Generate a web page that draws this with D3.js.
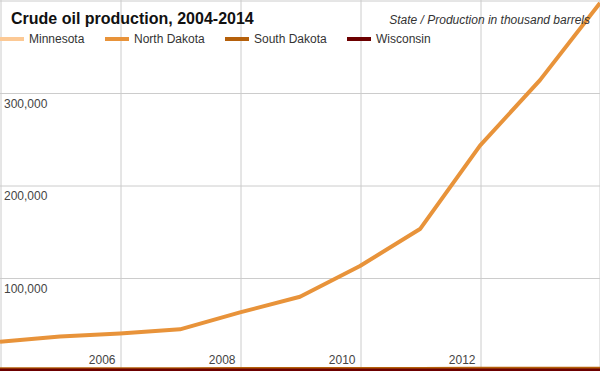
<html>
<head>
    <title>Crude oil production</title>
    <script src="https://d3js.org/d3.v7.min.js"></script>
    <style>
        body { margin: 0; background: #fff; }
        text { font-family: Arial, "Liberation Sans", sans-serif; }
    </style>
</head>
<body>
<script>
    // data, thousand barrels per year
    const years = [2004, 2005, 2006, 2007, 2008, 2009, 2010, 2011, 2012, 2013, 2014]
    const states = ['Minnesota', 'North Dakota', 'South Dakota', 'Wisconsin']
    const minnesota = [0, 0, 0, 0, 0, 0, 0, 0, 0, 0, 0]
    const northDakota = [31200, 36800, 40000, 44500, 62800, 79700, 113000, 152900, 243100, 313900, 397400]
    const southDakota = [1400, 1300, 1300, 1400, 1600, 1600, 1600, 1700, 1800, 1900, 1900]
    const wisconsin = [0, 0, 0, 0, 0, 0, 0, 0, 0, 0, 0]
    const colors = ['#fcc995', '#e8933a', '#b5600b', '#6c0000']
    const xTicks = [2004, 2006, 2008, 2010, 2012, 2014]
    const yTicks = [0, 100000, 200000, 300000, 400000]

    const series = [minnesota, northDakota, southDakota, wisconsin]

    const width = 600, height = 371

    const svg = d3.select('body').append('svg')
        .attr('width', width)
        .attr('height', height)

    const x = d3.scaleLinear()
        .domain([2004, 2014])
        .range([0, width])

    const y = d3.scaleLinear()
        .domain([0, 400000])
        .range([370.5, 0.5])

    // vertical grid + year labels
    const xAxis = svg.append('g')
        .attr('transform', 'translate(0,' + height + ')')
        .call(d3.axisBottom(x)
            .tickValues(xTicks)
            .tickSize(-height)
            .tickFormat(d3.format('d')))
    xAxis.select('.domain').remove()
    xAxis.selectAll('line')
        .attr('stroke', '#ccc')
        .attr('transform', d => d === 2014 ? 'translate(-0.5,0)' : 'translate(0.5,0)')
    xAxis.selectAll('text')
        .attr('y', -7)
        .attr('x', -5)
        .attr('dy', 0)
        .attr('text-anchor', 'end')
        .attr('fill', '#444')
        .style('font-size', '12px')
        .style('display', d => (d === 2004 || d === 2014) ? 'none' : null)

    // horizontal grid + value labels
    const yAxis = svg.append('g')
        .call(d3.axisRight(y)
            .tickValues(yTicks)
            .tickSize(width)
            .tickFormat(d3.format(',')))
    yAxis.select('.domain').remove()
    yAxis.selectAll('line').attr('stroke', '#ccc')
    yAxis.selectAll('text')
        .attr('x', 4)
        .attr('dy', 14)
        .attr('text-anchor', 'start')
        .attr('fill', '#444')
        .style('font-size', '12px')
        .style('display', d => (d === 0 || d === 400000) ? 'none' : null)

    // lines
    const line = d3.line()
        .x((d, i) => x(years[i]))
        .y(d => y(d))

    const plot = svg.append('g')
    series.forEach((s, k) => {
        plot.append('path')
            .datum(s)
            .attr('fill', 'none')
            .attr('stroke', colors[k])
            .attr('stroke-width', 4)
            .attr('stroke-linejoin', 'round')
            .attr('d', line)
    })

    // title
    svg.append('text')
        .attr('x', 11)
        .attr('y', 24)
        .attr('fill', '#111')
        .style('font-size', '16px')
        .style('font-weight', 'bold')
        .text('Crude oil production, 2004-2014')

    svg.append('text')
        .attr('x', 590)
        .attr('y', 24)
        .attr('text-anchor', 'end')
        .attr('fill', '#333')
        .style('font-size', '12px')
        .style('font-style', 'italic')
        .text('State / Production in thousand barrels')

    // legend
    const legendX = [0, 105, 225, 347]
    const legend = svg.append('g')
    states.forEach((name, k) => {
        legend.append('line')
            .attr('x1', legendX[k])
            .attr('x2', legendX[k] + 24)
            .attr('y1', 39)
            .attr('y2', 39)
            .attr('stroke', colors[k])
            .attr('stroke-width', 4)
        legend.append('text')
            .attr('x', legendX[k] + 29)
            .attr('y', 43)
            .attr('fill', '#333')
            .style('font-size', '12px')
            .text(name)
    })
</script>
</body>
</html>
